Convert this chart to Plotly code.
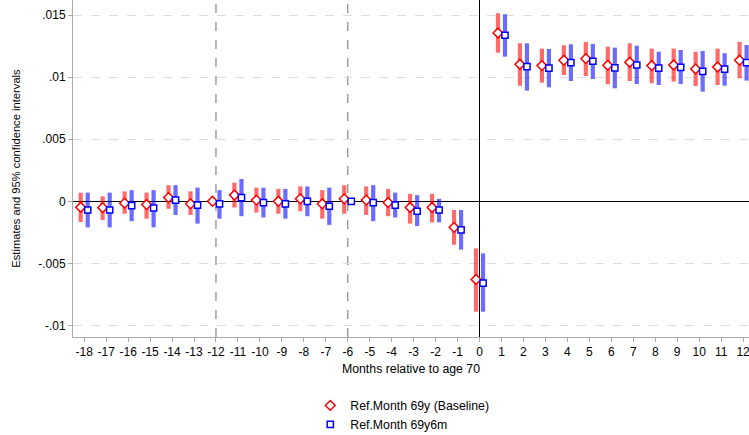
import plotly.graph_objects as go

months = list(range(-18, 13))

# Ref.Month 69y (Baseline): estimate, lower CI, upper CI
base_est = [-0.00048, -0.00051, -0.00015, -0.00026, 0.0003, -0.0002, 0.0,
            0.0005, 0.0001, 0.0, 0.0002, -0.0002, 0.0002,
            0.0001, -0.0001, -0.0005, -0.0005, -0.0021, -0.0063,
            0.01357, 0.01105, 0.01094, 0.01137, 0.0115, 0.01097,
            0.01121, 0.01094, 0.01099, 0.01067, 0.01083, 0.01137]
base_lo = [-0.00167, -0.0015, -0.001, -0.0014, -0.0006, -0.0011, 0.0,
           -0.0005, -0.0009, -0.001, -0.0008, -0.0014, -0.001,
           -0.0011, -0.0012, -0.0018, -0.0017, -0.0035, -0.0089,
           0.01198, 0.00932, 0.00956, 0.01018, 0.0101, 0.00944,
           0.0097, 0.00952, 0.00965, 0.0093, 0.00938, 0.00992]
base_hi = [0.00069, 0.0004, 0.0008, 0.0007, 0.0013, 0.0008, 0.0,
           0.0015, 0.0011, 0.001, 0.0012, 0.0009, 0.0013,
           0.0012, 0.001, 0.0006, 0.0006, -0.0007, -0.0038,
           0.01516, 0.01274, 0.01231, 0.01258, 0.01285, 0.01247,
           0.01274, 0.01231, 0.01231, 0.01206, 0.01231, 0.01285]

# Ref.Month 69y6m
alt_est = [-0.0007, -0.0007, -0.00035, -0.00054, 0.0001, -0.0003, -0.0002,
           0.0003, -0.0001, -0.0002, 0.0, -0.0004, 0.0,
           -0.0001, -0.0003, -0.0008, -0.0007, -0.0023, -0.0066,
           0.01339, 0.01086, 0.01073, 0.01118, 0.01129, 0.01075,
           0.01099, 0.01073, 0.0108, 0.01048, 0.01065, 0.01118]
alt_lo = [-0.0021, -0.0021, -0.0016, -0.0021, -0.0011, -0.0018, -0.0014,
          -0.0012, -0.0013, -0.0014, -0.0012, -0.0019, 0.0,
          -0.0016, -0.0013, -0.002, -0.0017, -0.0039, -0.0089,
          0.01166, 0.00892, 0.00919, 0.0097, 0.00986, 0.00911,
          0.00946, 0.00938, 0.00946, 0.00884, 0.00932, 0.00973]
alt_hi = [0.0007, 0.0007, 0.0009, 0.0009, 0.0013, 0.0011, 0.0009,
          0.0018, 0.0011, 0.001, 0.0012, 0.0011, 0.0,
          0.0013, 0.0007, 0.0005, 0.0002, -0.0007, -0.0042,
          0.01508, 0.01274, 0.01228, 0.01266, 0.01269, 0.01239,
          0.01255, 0.01206, 0.0122, 0.01212, 0.01194, 0.0126]

y_tickvals = [-0.01, -0.005, 0, 0.005, 0.01, 0.015]
y_ticktext = ["-.01", "-.005", "0", ".005", ".01", ".015"]

off = 0.16
x_base = [m - off for m in months]
x_alt = [m + off for m in months]

fig = go.Figure()
fig.add_trace(go.Scatter(
    x=x_base, y=base_est, mode="markers", name="Ref.Month 69y (Baseline)",
    marker=dict(symbol="diamond", size=7.5, color="white",
                line=dict(color="red", width=1.5)),
    error_y=dict(type="data", symmetric=False,
                 array=[h - e for h, e in zip(base_hi, base_est)],
                 arrayminus=[e - l for e, l in zip(base_est, base_lo)],
                 thickness=4.2, width=0, color="rgba(255,0,0,0.58)"),
))
fig.add_trace(go.Scatter(
    x=x_alt, y=alt_est, mode="markers", name="Ref.Month 69y6m",
    marker=dict(symbol="square", size=6.2, color="white",
                line=dict(color="blue", width=1.5)),
    error_y=dict(type="data", symmetric=False,
                 array=[h - e for h, e in zip(alt_hi, alt_est)],
                 arrayminus=[e - l for e, l in zip(alt_est, alt_lo)],
                 thickness=4.2, width=0, color="rgba(0,0,255,0.58)"),
))

shapes = [
    dict(type="line", xref="x", yref="paper", x0=-12, x1=-12, y0=0, y1=1,
         line=dict(color="#888888", width=1.2, dash="dash"), layer="below"),
    dict(type="line", xref="x", yref="paper", x0=-6, x1=-6, y0=0, y1=1,
         line=dict(color="#888888", width=1.2, dash="dash"), layer="below"),
]

fig.update_layout(
    width=749, height=435,
    margin=dict(l=73, r=0, t=0, b=98, autoexpand=False),
    paper_bgcolor="white", plot_bgcolor="white",
    font=dict(family="Liberation Sans, Arial, sans-serif", size=12, color="black"),
    shapes=shapes,
    showlegend=True,
    legend=dict(x=0.351, y=-0.160, xanchor="left", yanchor="top",
                font=dict(size=12.3), tracegroupgap=0, itemwidth=30),
)
fig.update_xaxes(
    range=[-18.51, 12.27], tickvals=months, ticktext=[str(m) for m in months],
    showgrid=False, zeroline=True, zerolinecolor="black", zerolinewidth=1.3,
    showline=True, linecolor="#aaaaaa",
    linewidth=1, ticks="outside", ticklen=4, tickcolor="#aaaaaa",
    automargin=False, ticklabeloverflow="allow",
    title=dict(text="Months relative to age 70", standoff=5, font=dict(size=12.3)),
)
fig.update_yaxes(
    range=[-0.01094, 0.01623], tickvals=y_tickvals, ticktext=y_ticktext,
    showgrid=True, gridcolor="#dddddd", griddash="dash", gridwidth=1,
    zeroline=True, zerolinecolor="black", zerolinewidth=1.2,
    showline=True, linecolor="#aaaaaa", linewidth=1,
    ticks="outside", ticklen=4, tickcolor="#aaaaaa",
    automargin=False,
    title=dict(text="Estimates and 95% confidence intervals", standoff=15,
               font=dict(size=11.2)),
)

fig.write_html("out.html", config={"displayModeBar": False},
               post_script="document.body.style.margin='0';document.body.style.overflow='hidden';")
